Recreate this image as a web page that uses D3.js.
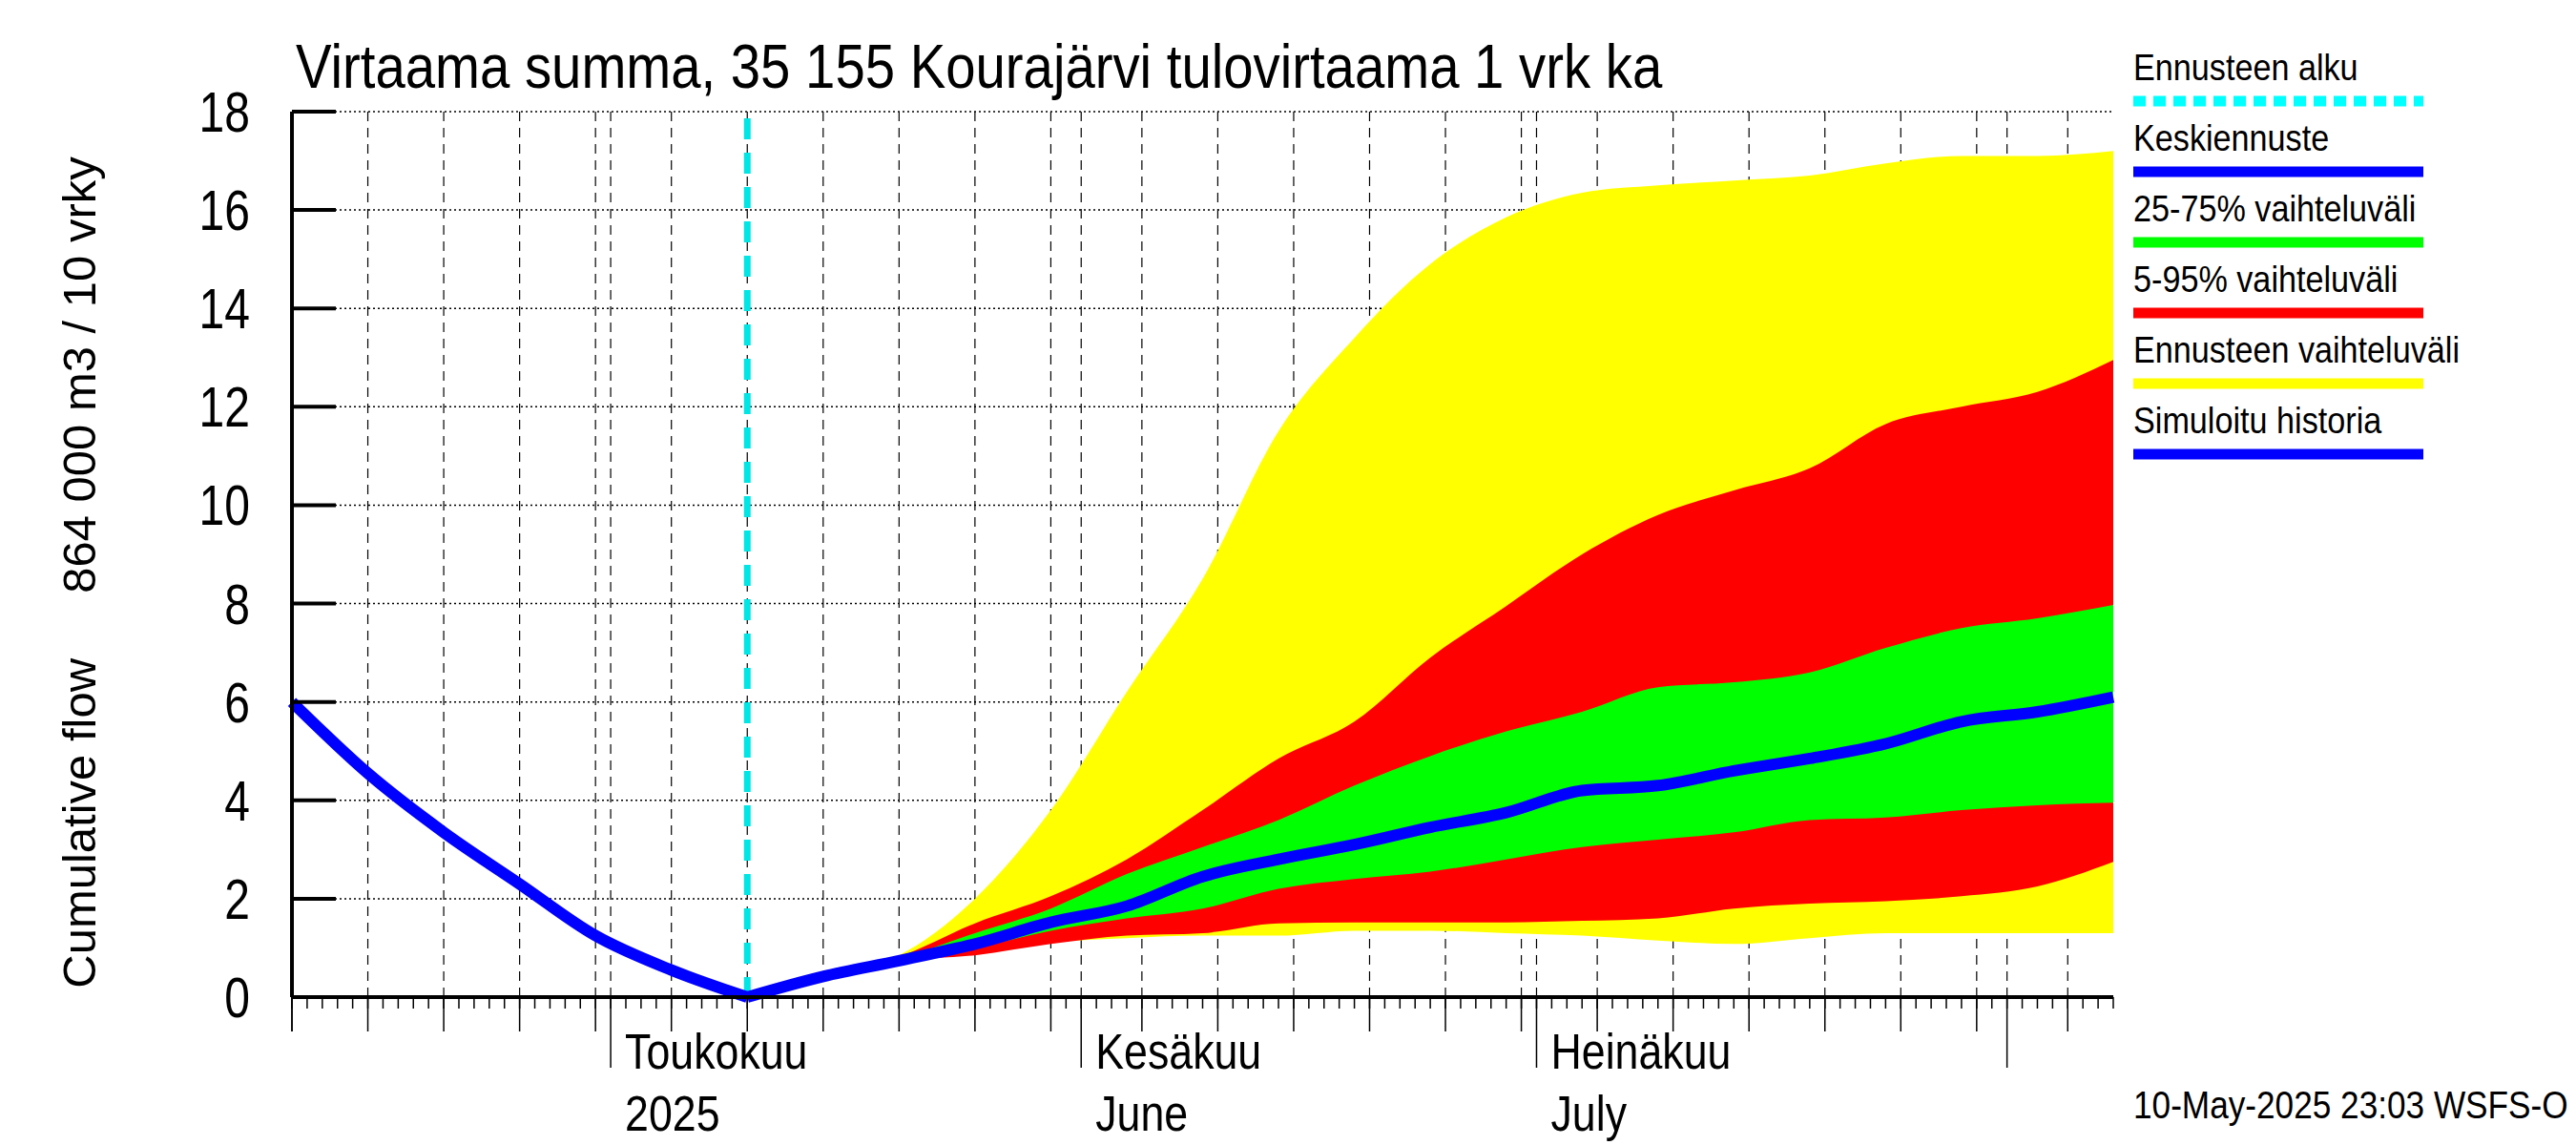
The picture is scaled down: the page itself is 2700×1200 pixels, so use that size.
<!DOCTYPE html>
<html><head><meta charset="utf-8">
<script src="https://cdn.jsdelivr.net/npm/d3@7"></script>
<style>body{margin:0;background:#fff}</style></head>
<body><svg id="c" width="2700" height="1200"></svg>
<script>
const histDates=["2025-04-10","2025-04-15","2025-04-20","2025-04-25","2025-04-30","2025-05-05","2025-05-10"];
const histValues=[6.0,4.55,3.35,2.3,1.25,0.55,0];
const fcDates=["2025-05-10","2025-05-15","2025-05-20","2025-05-25","2025-05-30","2025-06-04","2025-06-09","2025-06-14","2025-06-19","2025-06-24","2025-06-29","2025-07-04","2025-07-09","2025-07-14","2025-07-19","2025-07-24","2025-07-29","2025-08-03","2025-08-08"];
const median=[0,0.42,0.74,1.08,1.52,1.85,2.45,2.8,3.1,3.45,3.75,4.2,4.3,4.6,4.85,5.15,5.6,5.8,6.1];
const yelLow=[0,0.4,0.72,0.95,1.12,1.2,1.25,1.25,1.35,1.35,1.3,1.25,1.15,1.08,1.2,1.3,1.3,1.3,1.3];
const yelHigh=[0,0.45,0.85,2.0,3.8,6.2,8.5,11.5,13.4,14.9,15.85,16.35,16.5,16.6,16.7,16.95,17.1,17.1,17.2];
const redLow=[0,0.41,0.73,0.85,1.08,1.25,1.3,1.5,1.52,1.52,1.52,1.55,1.6,1.8,1.9,1.95,2.05,2.25,2.75];
const redHigh=[0,0.44,0.82,1.5,2.05,2.8,3.8,4.85,5.6,6.9,7.95,9.0,9.8,10.3,10.75,11.65,12.0,12.3,12.95];
const grnLow=[0,0.41,0.73,1.0,1.35,1.6,1.8,2.2,2.4,2.55,2.8,3.05,3.2,3.35,3.6,3.65,3.8,3.9,3.95];
const grnHigh=[0,0.43,0.78,1.3,1.8,2.5,3.05,3.6,4.3,4.9,5.4,5.8,6.3,6.4,6.6,7.1,7.5,7.7,7.97];
const yTicks=[0,2,4,6,8,10,12,14,16,18];
const monthStarts=[["2025-05-01","Toukokuu","2025"],["2025-06-01","Kesäkuu","June"],["2025-07-01","Heinäkuu","July"],["2025-08-01","",""]];
const legendItems=[["Ennusteen alku","#00ffff",true],["Keskiennuste","#0000ff",false],["25-75% vaihteluväli","#00ff00",false],["5-95% vaihteluväli","#ff0000",false],["Ennusteen vaihteluväli","#ffff00",false],["Simuloitu historia","#0000ff",false]];

const P=d3.timeParse("%Y-%m-%d");
const svg=d3.select("#c");
const L=306,R=2215,T=117,B=1045;
const x=d3.scaleTime().domain([P("2025-04-10"),P("2025-08-08")]).range([L,R]);
const y=d3.scaleLinear().domain([0,18]).range([B,T]);
const F="'Liberation Sans',Arial,sans-serif";
function ntext(g,tx,ty,size,str,anchor,sx){
  return g.append("text").attr("transform",`translate(${tx},${ty}) scale(${sx||0.8},1)`)
   .attr("font-family",F).attr("font-size",size).attr("text-anchor",anchor||"start").text(str);
}
const days=d3.timeDay.range(P("2025-04-10"),P("2025-08-09"));
const fiveDays=days.filter(d=>d.getDate()%5===0 && d.getDate()<=30);
const monthDs=monthStarts.map(m=>P(m[0]));
const gridDs=fiveDays.concat(monthDs);

svg.append("g").selectAll("line").data(yTicks.slice(1)).join("line")
 .attr("x1",L).attr("x2",R).attr("y1",d=>y(d)).attr("y2",d=>y(d))
 .attr("stroke","#000").attr("stroke-width",1.5).attr("stroke-dasharray","2,3");
svg.append("g").selectAll("line").data(gridDs).join("line")
 .attr("x1",d=>x(d)).attr("x2",d=>x(d)).attr("y1",T).attr("y2",B)
 .attr("stroke","#000").attr("stroke-width",1.2).attr("stroke-dasharray","10,7");

const fd=fcDates.map(P);
function band(lo,hi,col){
 svg.append("path").datum(fd.map((d,i)=>[d,lo[i],hi[i]]))
  .attr("d",d3.area().x(d=>x(d[0])).y0(d=>y(d[1])).y1(d=>y(d[2])).curve(d3.curveMonotoneX))
  .attr("fill",col);
}
band(yelLow,yelHigh,"#ffff00");
band(redLow,redHigh,"#ff0000");
band(grnLow,grnHigh,"#00ff00");

svg.append("line").attr("x1",x(P("2025-05-10"))).attr("x2",x(P("2025-05-10"))).attr("y1",T+7).attr("y2",B)
 .attr("stroke","#00e5e5").attr("stroke-width",7).attr("stroke-dasharray","22,14");

const line=d3.line().x(d=>x(d[0])).y(d=>y(d[1])).curve(d3.curveMonotoneX);
svg.append("path").datum(histDates.map((d,i)=>[P(d),histValues[i]])).attr("d",line)
 .attr("fill","none").attr("stroke","#0000ff").attr("stroke-width",12);
svg.append("path").datum(fd.map((d,i)=>[d,median[i]])).attr("d",line)
 .attr("fill","none").attr("stroke","#0000ff").attr("stroke-width",12);

svg.append("line").attr("x1",L).attr("x2",L).attr("y1",T).attr("y2",B).attr("stroke","#000").attr("stroke-width",4);
svg.append("line").attr("x1",L).attr("x2",R).attr("y1",B).attr("y2",B).attr("stroke","#000").attr("stroke-width",4);
const yg=svg.append("g");
yg.selectAll("line").data(yTicks).join("line").attr("x1",L).attr("x2",L+46).attr("y1",d=>y(d)).attr("y2",d=>y(d)).attr("stroke","#000").attr("stroke-width",4);
yTicks.forEach(t=>ntext(yg,262,y(t)+21,60,t,"end"));
svg.append("g").selectAll("line").data(days).join("line").attr("x1",d=>x(d)).attr("x2",d=>x(d)).attr("y1",B).attr("y2",B+12).attr("stroke","#000").attr("stroke-width",1.5);
svg.append("g").selectAll("line").data([P("2025-04-10")].concat(fiveDays)).join("line").attr("x1",d=>x(d)).attr("x2",d=>x(d)).attr("y1",B).attr("y2",B+36).attr("stroke","#000").attr("stroke-width",1.5);
const mg=svg.append("g");
mg.selectAll("line").data(monthDs).join("line").attr("x1",d=>x(d)).attr("x2",d=>x(d)).attr("y1",B).attr("y2",B+74).attr("stroke","#000").attr("stroke-width",1.5);
monthStarts.forEach((m,i)=>{ntext(mg,x(monthDs[i])+15,1120,52,m[1],"start",0.86);ntext(mg,x(monthDs[i])+15,1185,52,m[2],"start",0.86);});

ntext(svg,310,92,64,"Virtaama summa, 35 155 Kourajärvi tulovirtaama 1 vrk ka","start",0.88);
svg.append("text").attr("transform","translate(100,600) rotate(-90)").attr("text-anchor","middle")
 .attr("font-family",F).attr("font-size",49).attr("xml:space","preserve").text("Cumulative flow     864 000 m3 / 10 vrky");
ntext(svg,2236,1172,40,"10-May-2025 23:03 WSFS-O","start",0.88);

const lg=svg.append("g");
legendItems.forEach((it,i)=>{
 const yy=84+i*74;
 ntext(lg,2236,yy,38,it[0],"start",0.9);
 lg.append("line").attr("x1",2236).attr("x2",2540).attr("y1",yy+22).attr("y2",yy+22).attr("stroke",it[1]).attr("stroke-width",11)
  .attr("stroke-dasharray",it[2]?"13,8":null);
});
</script></body></html>
